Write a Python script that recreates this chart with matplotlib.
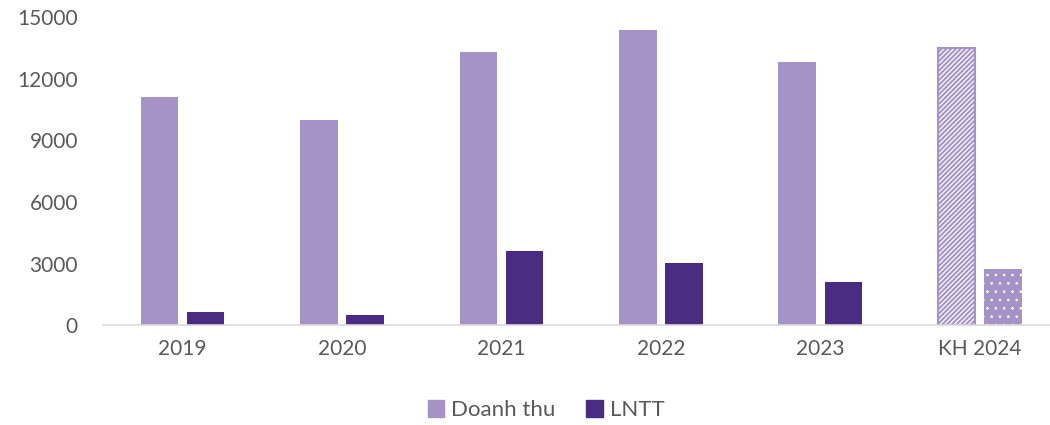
import numpy as np
import matplotlib
matplotlib.use('Agg')
import matplotlib.pyplot as plt
from matplotlib.patches import Patch

plt.rcParams['font.family'] = ['Lato', 'DejaVu Sans']
plt.rcParams['hatch.linewidth'] = 1.5

categories = ['2019', '2020', '2021', '2022', '2023', 'KH 2024']
doanh_thu = [11100, 10000, 13300, 14380, 12820, 13480]
lntt = [650, 490, 3600, 3020, 2100, 2730]

c_dt = '#A593C8'
c_ln = '#4B2C83'
grey = '#595959'

fig = plt.figure(figsize=(10.5, 4.25), dpi=100)
ax = fig.add_axes([0.098, 0.235, 0.911, 0.725])

x = np.arange(len(categories))
w = 0.235
off = 0.145

# actual years
ax.bar(x[:-1] - off, doanh_thu[:-1], w, color=c_dt, label='Doanh thu')
ax.bar(x[:-1] + off, lntt[:-1], w, color=c_ln, label='LNTT')

# plan 2024: hatched
ax.bar(x[-1] - off, doanh_thu[-1], w, facecolor='white', edgecolor=c_dt,
       hatch='///////', linewidth=1.5)
dots = ax.bar(x[-1] + off, lntt[-1], w, facecolor=c_dt, edgecolor='white',
              hatch='..', linewidth=0)
for p in dots:
    if hasattr(p, 'set_hatch_linewidth'):
        p.set_hatch_linewidth(0.6)

ax.set_xlim(-0.5, len(categories) - 0.5)
ax.set_ylim(0, 15000)
ax.set_yticks(np.arange(0, 15001, 3000))
ax.set_xticks(x)
ax.set_xticklabels(categories)
ax.tick_params(axis='both', length=0, labelsize=15, colors=grey)
ax.tick_params(axis='x', pad=10)
ax.tick_params(axis='y', pad=18)

for s in ['top', 'right', 'left']:
    ax.spines[s].set_visible(False)
ax.spines['bottom'].set_color('#D9D9D9')
ax.spines['bottom'].set_linewidth(1.2)

handles = [Patch(color=c_dt, label='Doanh thu'), Patch(color=c_ln, label='LNTT')]
fig.legend(handles=handles, loc='center', bbox_to_anchor=(0.52, 0.035), ncol=2,
           frameon=False, fontsize=16, labelcolor=grey, handlelength=0.75,
           handleheight=0.75, handletextpad=0.3, columnspacing=1.4)

fig.savefig('out.png', dpi=100)
